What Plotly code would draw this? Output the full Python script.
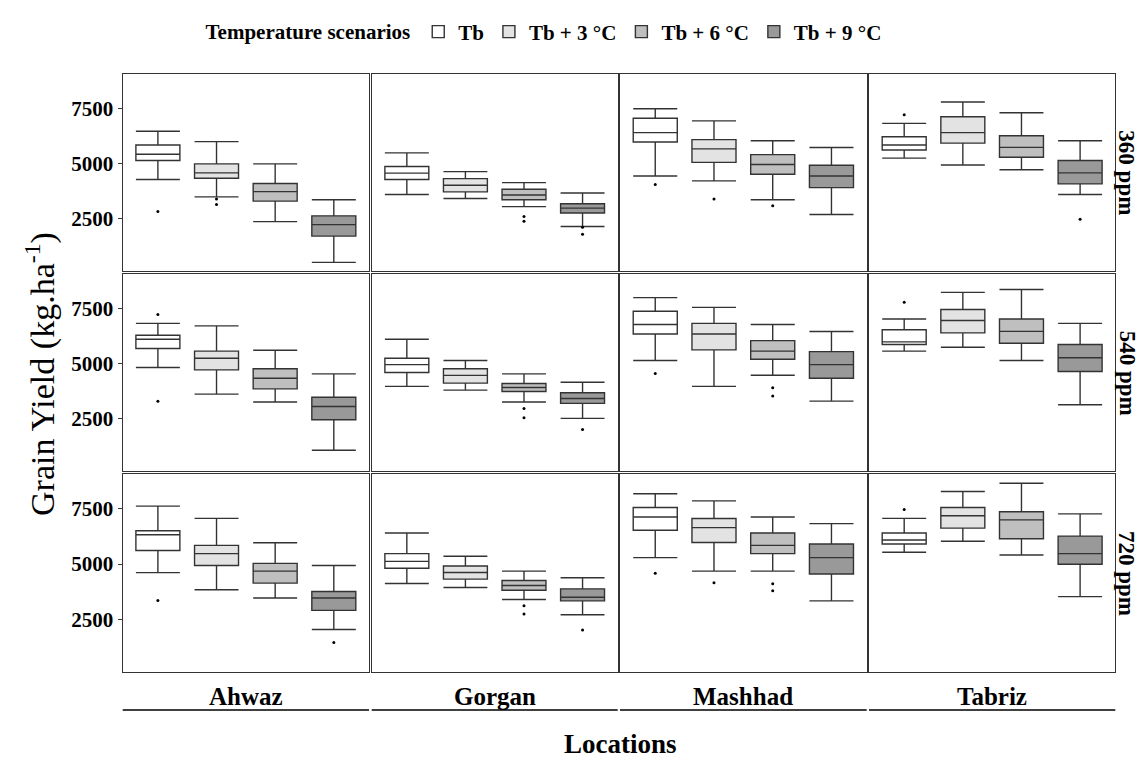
import plotly.graph_objects as go

# ---------------- data ----------------
locations = ["Ahwaz", "Gorgan", "Mashhad", "Tabriz"]
co2_levels = ["360 ppm", "540 ppm", "720 ppm"]
scenarios = ["Tb", "Tb + 3 °C", "Tb + 6 °C", "Tb + 9 °C"]
y_ticks = [2500, 5000, 7500]

# each list: [location][scenario]
lower_360 = [[4270, 3480, 2360, 510], [3590, 3410, 3040, 2140], [4430, 4210, 3350, 2680], [5240, 4930, 4710, 3590]]
q1_360 = [[5130, 4330, 3290, 1700], [4270, 3710, 3350, 2750], [5970, 5050, 4510, 3900], [5610, 5920, 5280, 4070]]
median_360 = [[5420, 4570, 3720, 2220], [4560, 4010, 3570, 2970], [6400, 5660, 4950, 4430], [5840, 6400, 5730, 4570]]
q3_360 = [[5840, 4980, 4090, 2620], [4860, 4310, 3830, 3170], [7050, 6080, 5400, 4920], [6210, 7120, 6260, 5130]]
upper_360 = [[6460, 5990, 4980, 3350], [5480, 4630, 4130, 3660], [7480, 6930, 6030, 5720], [6820, 7790, 7300, 6030]]
outliers_360 = [[[2820], [3380, 3130], [], []], [[], [], [2590, 2380], [2100, 1790]],
                [[4040], [3380], [3080], []], [[7210], [], [], [2470]]]

lower_540 = [[4830, 3620, 3260, 1070], [3970, 3800, 3260, 2520], [5150, 3970, 4480, 3300], [5570, 5750, 5150, 3140]]
q1_540 = [[5690, 4720, 3860, 2460], [4600, 4120, 3740, 3200], [6350, 5630, 5200, 4340], [5870, 6400, 5930, 4650]]
median_540 = [[6110, 5250, 4340, 3060], [4960, 4470, 3920, 3420], [6780, 6350, 5570, 4960], [5990, 6960, 6470, 5270]]
q3_540 = [[6290, 5570, 4770, 3480], [5250, 4770, 4100, 3680], [7380, 6830, 6050, 5550], [6540, 7460, 7030, 5870]]
upper_540 = [[6830, 6720, 5610, 4540], [6110, 5150, 4540, 4160], [8000, 7560, 6780, 6460], [7030, 8240, 8370, 6830]]
outliers_540 = [[[7230, 3300], [], [], []], [[], [], [2970, 2550], [2010]],
                [[4560], [], [3910, 3530], []], [[7790], [], [], []]]

lower_720 = [[4610, 3840, 3470, 2050], [4120, 3940, 3400, 2710], [5290, 4680, 4680, 3340], [5530, 6030, 5410, 3530]]
q1_720 = [[5610, 4930, 4140, 2910], [4810, 4320, 3820, 3340], [6520, 5970, 5470, 4550], [5900, 6620, 6140, 4990]]
median_720 = [[6320, 5470, 4680, 3470], [5120, 4620, 4030, 3500], [7120, 6640, 5840, 5290], [6080, 7180, 6990, 5470]]
q3_720 = [[6500, 5840, 5030, 3760], [5470, 4910, 4260, 3880], [7550, 7050, 6400, 5900], [6400, 7550, 7360, 6260]]
upper_720 = [[7610, 7060, 5960, 4930], [6400, 5350, 4680, 4380], [8170, 7850, 7120, 6820], [7060, 8270, 8640, 7260]]
outliers_720 = [[[3360], [], [], [1460]], [[], [], [3120, 2750], [2020]],
                [[4580], [4160], [4110, 3800], []], [[7460], [], [], []]]

# ---------------- styling ----------------
fills = ["#FFFFFF", "#E3E3E3", "#BFBFBF", "#999999"]
edge = "#333333"
FONT = "Liberation Serif"
W, H = 1140, 758

col_px = [(122.7, 369.0), (371.7, 617.7), (620.0, 866.7), (869.0, 1115.3)]
row_px = [(74.0, 270.7), (274.3, 471.0), (474.0, 672.0)]

levels = [
    (lower_360, q1_360, median_360, q3_360, upper_360, outliers_360),
    (lower_540, q1_540, median_540, q3_540, upper_540, outliers_540),
    (lower_720, q1_720, median_720, q3_720, upper_720, outliers_720),
]

fig = go.Figure()
layout_axes = {}

for r in range(3):
    lo, q1, md, q3, up, outl = levels[r]
    for c in range(4):
        idx = r * 4 + c + 1
        xa = "x" if idx == 1 else f"x{idx}"
        ya = "y" if idx == 1 else f"y{idx}"
        for s in range(4):
            fig.add_trace(go.Box(
                x=[s], q1=[q1[c][s]], median=[md[c][s]], q3=[q3[c][s]],
                lowerfence=[lo[c][s]], upperfence=[up[c][s]],
                width=0.75, whiskerwidth=1,
                fillcolor=fills[s], line=dict(color=edge, width=1.4),
                name=scenarios[s], legendgroup=scenarios[s],
                showlegend=(idx == 1), boxpoints=False,
                xaxis=xa, yaxis=ya,
            ))
            if outl[c][s]:
                fig.add_trace(go.Scatter(
                    x=[s] * len(outl[c][s]), y=outl[c][s], mode="markers",
                    marker=dict(color="black", size=3),
                    showlegend=False, hoverinfo="y",
                    xaxis=xa, yaxis=ya,
                ))
        x0, x1 = col_px[c]
        y0, y1 = row_px[r]
        kx = "xaxis" if idx == 1 else f"xaxis{idx}"
        ky = "yaxis" if idx == 1 else f"yaxis{idx}"
        layout_axes[kx] = dict(
            domain=[x0 / W, x1 / W], range=[-0.6, 3.6], anchor=ya,
            showticklabels=False, ticks="", showgrid=False, zeroline=False,
            showline=True, mirror=True, linecolor=edge, linewidth=1.4,
        )
        layout_axes[ky] = dict(
            domain=[1 - y1 / H, 1 - y0 / H], range=[130, 9060], anchor=xa,
            tickvals=y_ticks, showticklabels=(c == 0),
            ticks="outside" if c == 0 else "", ticklen=4, tickcolor=edge,
            tickfont=dict(family=FONT, size=21, color="black", weight="bold"),
            showgrid=False, zeroline=False,
            showline=True, mirror=True, linecolor=edge, linewidth=1.4,
        )

annotations = []
shapes = []
# bottom strip labels
for c, name in enumerate(locations):
    x0, x1 = col_px[c]
    annotations.append(dict(
        text=name, x=(x0 + x1) / 2 / W, y=1 - 696 / H, xref="paper", yref="paper",
        showarrow=False, xanchor="center", yanchor="middle",
        font=dict(family=FONT, size=25, color="black", weight="bold"),
    ))
    shapes.append(dict(type="line", xref="paper", yref="paper",
                       x0=x0 / W, x1=x1 / W, y0=1 - 710 / H, y1=1 - 710 / H,
                       line=dict(color="black", width=1.4)))
# right strip labels
for r, lvl in enumerate(co2_levels):
    y0, y1 = row_px[r]
    annotations.append(dict(
        text=lvl, x=1127 / W, y=1 - (y0 + y1) / 2 / H, xref="paper", yref="paper",
        showarrow=False, xanchor="center", yanchor="middle", textangle=90,
        font=dict(family=FONT, size=23, color="black", weight="bold"),
    ))
# axis titles
annotations.append(dict(
    text="Locations", x=620 / W, y=1 - 744 / H, xref="paper", yref="paper",
    showarrow=False, xanchor="center", yanchor="middle",
    font=dict(family=FONT, size=27, color="black", weight="bold"),
))
annotations.append(dict(
    text="Grain Yield (kg.ha<sup>-1</sup>)", x=40 / W, y=1 - 374 / H, xref="paper", yref="paper",
    showarrow=False, xanchor="center", yanchor="middle", textangle=-90,
    font=dict(family=FONT, size=34, color="black"),
))

fig.update_layout(
    width=W, height=H, margin=dict(l=0, r=0, t=0, b=0),
    paper_bgcolor="white", plot_bgcolor="white",
    boxmode="overlay",
    annotations=annotations, shapes=shapes,
    legend=dict(
        orientation="h", x=545 / W, y=1 - 32 / H, xanchor="center", yanchor="middle",
        title=dict(text="Temperature scenarios", side="left",
                   font=dict(family=FONT, size=21, color="black", weight="bold")),
        font=dict(family=FONT, size=21, color="black", weight="bold"),
        itemwidth=30, tracegroupgap=0, bgcolor="rgba(0,0,0,0)",
    ),
    **layout_axes,
)

fig.write_html("out.html")
